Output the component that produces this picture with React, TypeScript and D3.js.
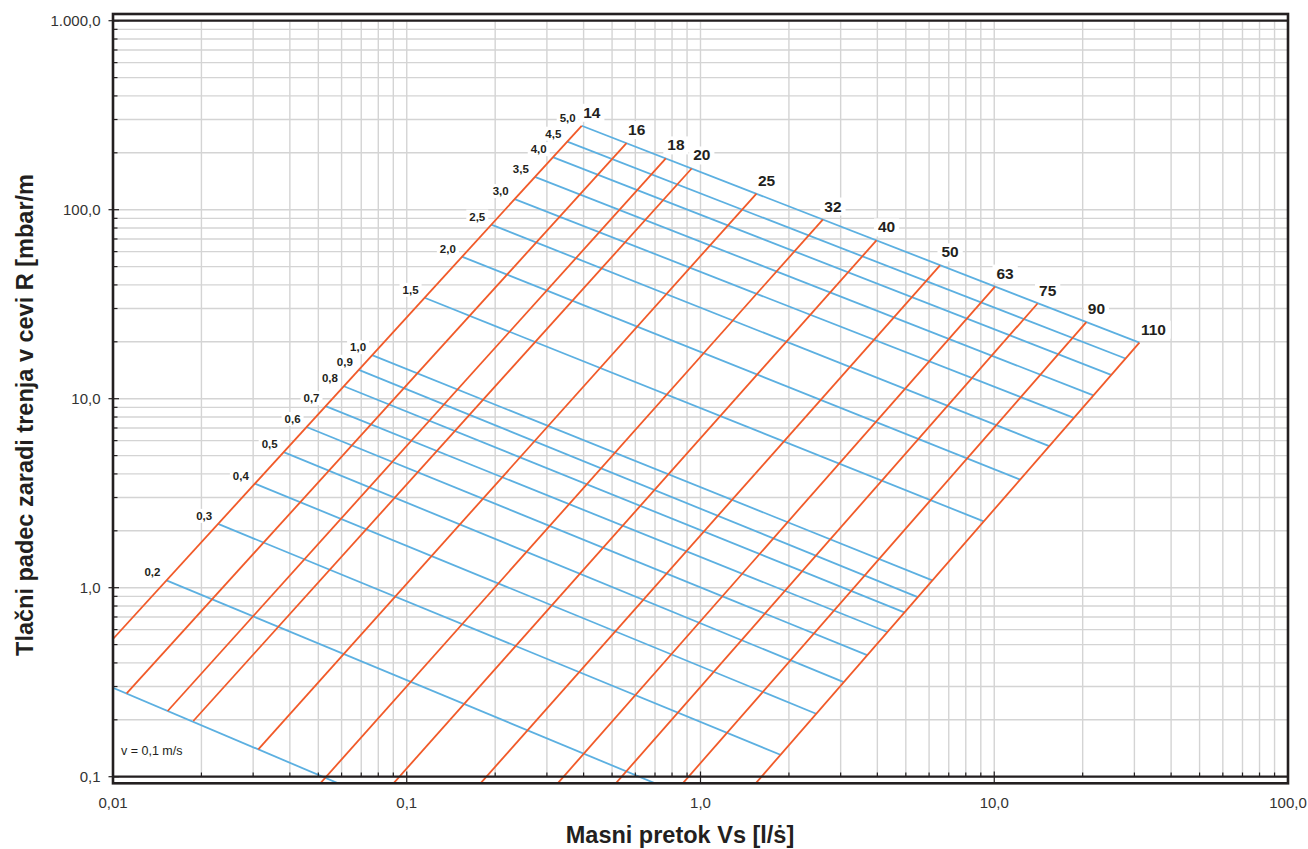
import React from 'react';
import * as d3 from 'd3';

const W = 1308;
const H = 849;
const FONT = '"Liberation Sans", Arial, Helvetica, sans-serif';

// Axis ticks
const xTickValues = [0.01, 0.1, 1, 10, 100];
const xTickLabels = ['0,01', '0,1', '1,0', '10,0', '100,0'];
const yTickValues = [0.1, 1, 10, 100, 1000];
const yTickLabels = ['0,1', '1,0', '10,0', '100,0', '1.000,0'];

// Pipe diameters (orange lines): end at v = 5,0 (top) and lower visible end
const diameterLabels = ['14', '16', '18', '20', '25', '32', '40', '50', '63', '75', '90', '110'];
const diameterTopQ = [0.394, 0.56, 0.762, 0.933, 1.551, 2.608, 3.972, 6.536, 10.06, 14.04, 20.58, 31.2];
const diameterTopR = [278, 225.1, 186.8, 165.2, 121.7, 88.7, 68.8, 50.74, 39.19, 31.89, 25.4, 19.79];
const diameterBottomQ = [0.01, 0.01113, 0.01535, 0.01877, 0.03123, 0.0507, 0.09, 0.178, 0.326, 0.514, 0.869, 1.539];
const diameterBottomR = [0.5354, 0.2763, 0.2227, 0.1971, 0.1396, 0.092, 0.092, 0.092, 0.092, 0.092, 0.092, 0.092];

// Velocities (blue lines): start on pipe 14, end on pipe 110 (or chart edge)
const velocityLabels = ['0,1', '0,2', '0,3', '0,4', '0,5', '0,6', '0,7', '0,8', '0,9', '1,0', '1,5', '2,0', '2,5', '3,0', '3,5', '4,0', '4,5', '5,0'];
const velocityStartQ = [0.01, 0.0152, 0.0228, 0.0304, 0.0381, 0.0456, 0.0529, 0.0611, 0.0687, 0.0762, 0.115, 0.154, 0.194, 0.233, 0.273, 0.314, 0.352, 0.394];
const velocityStartR = [0.2957, 1.094, 2.176, 3.555, 5.218, 7.086, 9.127, 11.64, 14.22, 16.99, 34.2, 56.5, 83.4, 113.8, 149.1, 189.6, 229, 278];
const velocityEndQ = [0.0587, 0.704, 1.871, 2.475, 3.073, 3.692, 4.324, 4.941, 5.489, 6.154, 9.207, 12.25, 15.39, 18.66, 21.75, 25.0, 27.97, 31.2];
const velocityEndR = [0.092, 0.092, 0.1307, 0.2154, 0.3166, 0.4395, 0.583, 0.74, 0.892, 1.094, 2.243, 3.733, 5.612, 7.914, 10.41, 13.38, 16.32, 19.79];

const firstVelocityNote = 'v = 0,1 m/s';
const xTitle = 'Masni pretok Vs [l/\u1E61]';
const yTitle = 'Tla\u010Dni padec zaradi trenja v cevi R [mbar/m';

const ORANGE = '#f15a29';
const BLUE = '#5cb0e1';
const DARK = '#231f20';
const GRID = '#d4d4d4';

const FRAME = { left: 113, right: 1288, top: 14, bottom: 783.3 };

function textWidth(s: string, size: number) {
  let w = 0;
  for (const c of s) {
    if (c === ',' || c === '.') w += 0.278;
    else w += 0.556;
  }
  return w * size;
}

export default function App() {
  const x = d3.scaleLog().domain([0.01, 100]).range([113, 1288]);
  const y = d3.scaleLog().domain([0.1, 1000]).range([776.7, 20.7]);

  const xGrid = x.ticks();
  const yGrid = y.ticks();
  const isMajor = (v: number) => Math.abs(Math.log10(v) - Math.round(Math.log10(v))) < 1e-6;

  const line = d3.line<[number, number]>().x(d => x(d[0])).y(d => y(d[1]));

  const dLabelSize = 15.5;
  const vLabelSize = 11.5;

  return (
    <svg width={W} height={H} style={{ position: 'absolute', left: 0, top: 0, background: '#fff' }} fontFamily={FONT}>
      <defs>
        <clipPath id="plotClip">
          <rect x={FRAME.left} y={FRAME.top} width={FRAME.right - FRAME.left} height={FRAME.bottom - FRAME.top} />
        </clipPath>
      </defs>
      <rect x={0} y={0} width={W} height={H} fill="#fff" />

      {/* grid */}
      <g stroke={GRID} strokeWidth={1.4}>
        {xGrid.map((v, i) => (
          <line key={'gx' + i} x1={x(v)} x2={x(v)} y1={y(1000)} y2={y(0.1)} />
        ))}
        {yGrid.map((v, i) => (
          <line key={'gy' + i} x1={x(0.01)} x2={x(100)} y1={y(v)} y2={y(v)} />
        ))}
      </g>

      {/* label backgrounds */}
      <g fill="#fff">
        {diameterLabels.map((lab, i) => {
          const px = x(diameterTopQ[i]) + 1.5;
          const py = y(diameterTopR[i]) - 8;
          const w = textWidth(lab, dLabelSize);
          return <rect key={'db' + i} x={px - 4} y={py - 14} width={w + 8} height={18} />;
        })}
        {velocityLabels.map((lab, i) => {
          if (i === 0) return null;
          const px = x(velocityStartQ[i]) - 6;
          const py = y(velocityStartR[i]) - 4;
          const w = textWidth(lab, vLabelSize);
          return <rect key={'vb' + i} x={px - w - 3} y={py - 11} width={w + 6} height={14} />;
        })}
      </g>

      {/* lines */}
      <g clipPath="url(#plotClip)" fill="none" strokeWidth={1.8}>
        {velocityLabels.map((lab, i) => (
          <path
            key={'v' + i}
            d={line([[velocityStartQ[i], velocityStartR[i]], [velocityEndQ[i], velocityEndR[i]]]) || ''}
            stroke={BLUE}
          />
        ))}
        {diameterLabels.map((lab, i) => (
          <path
            key={'d' + i}
            d={line([[diameterBottomQ[i], diameterBottomR[i]], [diameterTopQ[i], diameterTopR[i]]]) || ''}
            stroke={ORANGE}
          />
        ))}
      </g>

      {/* labels */}
      <g fontWeight="bold" fill={DARK}>
        {diameterLabels.map((lab, i) => (
          <text key={'dt' + i} x={x(diameterTopQ[i]) + 1.5} y={y(diameterTopR[i]) - 8} fontSize={dLabelSize}>
            {lab}
          </text>
        ))}
        {velocityLabels.map((lab, i) =>
          i === 0 ? null : (
            <text
              key={'vt' + i}
              x={x(velocityStartQ[i]) - 6}
              y={y(velocityStartR[i]) - 4}
              fontSize={vLabelSize}
              textAnchor="end"
            >
              {lab}
            </text>
          )
        )}
      </g>
      <text x={121} y={755} fontSize={12.5} fill={DARK}>
        {firstVelocityNote}
      </text>

      {/* ticks */}
      <g stroke={DARK} strokeWidth={1.2}>
        {yGrid.map((v, i) =>
          isMajor(v) ? (
            <line key={'ty' + i} x1={108.5} x2={119} y1={y(v)} y2={y(v)} />
          ) : (
            <line key={'ty' + i} x1={113} x2={117.5} y1={y(v)} y2={y(v)} />
          )
        )}
        {xGrid.map((v, i) =>
          isMajor(v) ? (
            <line key={'tx' + i} x1={x(v)} x2={x(v)} y1={771.5} y2={783.3} />
          ) : (
            <line key={'tx' + i} x1={x(v)} x2={x(v)} y1={772.5} y2={776.7} />
          )
        )}
      </g>

      {/* frame */}
      <g stroke={DARK} fill="none">
        <rect x={FRAME.left} y={FRAME.top} width={FRAME.right - FRAME.left} height={FRAME.bottom - FRAME.top} strokeWidth={2.6} />
        <line x1={FRAME.left} x2={FRAME.right} y1={y(1000)} y2={y(1000)} strokeWidth={2.2} />
        <line x1={FRAME.left} x2={FRAME.right} y1={y(0.1)} y2={y(0.1)} strokeWidth={2.2} />
      </g>

      {/* tick labels */}
      <g fontSize={15} fill="#333">
        {yTickValues.map((v, i) => (
          <text key={'yl' + i} x={100.5} y={y(v) + 5.5} textAnchor="end">
            {yTickLabels[i]}
          </text>
        ))}
        {xTickValues.map((v, i) => (
          <text key={'xl' + i} x={x(v)} y={808.3} textAnchor="middle">
            {xTickLabels[i]}
          </text>
        ))}
      </g>

      {/* axis titles */}
      <text x={680} y={843} fontSize={23.5} fontWeight="bold" fill={DARK} textAnchor="middle">
        {xTitle}
      </text>
      <text
        transform="translate(33,415) rotate(-90)"
        fontSize={23.5}
        fontWeight="bold"
        fill={DARK}
        textAnchor="middle"
      >
        {yTitle}
      </text>
    </svg>
  );
}
